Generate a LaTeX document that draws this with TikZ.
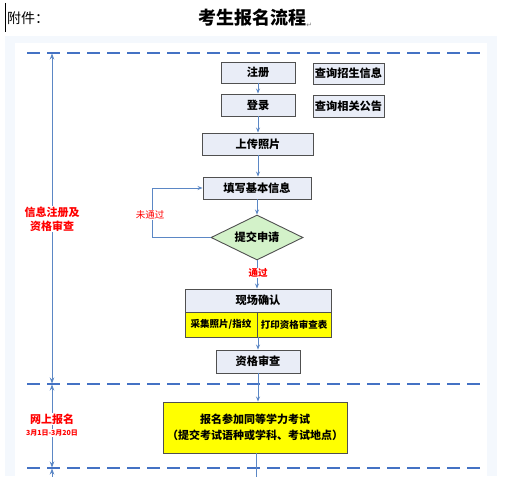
\documentclass[tikz,border=0pt]{standalone}
\usepackage{fontspec}
\setmainfont{Noto Sans CJK SC}
\newfontfamily\symfont{DejaVu Sans}
\usetikzlibrary{shapes.geometric,arrows.meta}
\definecolor{boxfill}{HTML}{E9EDF7}
\definecolor{boxline}{HTML}{505050}
\definecolor{flowblue}{HTML}{5B87C5}
\definecolor{dashblue}{HTML}{4472C4}
\definecolor{panel}{HTML}{F4F8FD}
\definecolor{diafill}{HTML}{D3F2C9}
\definecolor{labred}{HTML}{FF0000}
\definecolor{ylw}{HTML}{FFFF00}
\tikzset{
  stepbox/.style={draw=boxline, fill=boxfill, line width=0.9pt, inner sep=0pt,
    font=\fontsize{11.2}{13}\selectfont\bfseries},
  ybox/.style={stepbox, fill=ylw},
  arr/.style={draw=flowblue, line width=0.8pt, -{Stealth[length=5pt,width=4pt]}},
  bidir/.style={draw=flowblue, line width=0.8pt, {Stealth[length=6pt,width=4.5pt]}-{Stealth[length=6pt,width=4.5pt]}},
  sepline/.style={draw=dashblue, line width=2.3pt, dash pattern=on 13pt off 7pt},
  redlab/.style={text=labred, fill=white, inner sep=1pt, font=\bfseries, align=center},
}
\begin{document}
\begin{tikzpicture}[x=1pt,y=-1pt]
\useasboundingbox (0,0) rectangle (529,476);
% panels
\fill[panel] (5,36) rectangle (497,476);
\fill[white] (15,43) rectangle (487,476);
% title
\draw[black, line width=1.6pt] (5.5,3) -- (5.5,32);
\node[anchor=west, inner sep=0pt, font=\fontsize{14}{16}\selectfont] (att) at (7,18) {附件：};
\node[inner sep=0pt, font=\fontsize{18}{20}\selectfont\bfseries] (title) at (252,18) {考生报名流程};
\node[anchor=south west, inner sep=0pt, yshift=-1pt, text=gray, font=\symfont\fontsize{7}{8}\selectfont] (ret) at (title.south east) {↵};
% separators
\draw[sepline] (27,53) -- (482,53);
\draw[sepline] (27,384) -- (482,384);
\draw[sepline] (27,468) -- (482,468);
% left stage arrows
\coordinate (s0) at (52,53.5);
\coordinate (s1) at (52,383.5);
\coordinate (s1b) at (52,384.5);
\coordinate (s2) at (52,467.5);
\coordinate (s2b) at (52,468.5);
\coordinate (s3) at (52,490);
\draw[bidir] (s0) -- (s1);
\draw[bidir] (s1b) -- (s2);
\draw[bidir] (s2b) -- (s3);
\node[redlab, font=\fontsize{11}{14}\selectfont\bfseries] (lab1) at (52,219) {信息注册及\\资格审查};
\node[redlab, font=\fontsize{11}{13}\selectfont\bfseries] (lab2) at (52,419) {网上报名};
\node[redlab, font=\fontsize{7}{8}\selectfont\bfseries, inner sep=0.5pt] (lab3) at (52,433) {3月1日-3月20日};
% boxes
\node[stepbox, minimum width=74pt, minimum height=21pt] (reg) at (258,72.5) {注册};
\node[stepbox, minimum width=71pt, minimum height=21pt] (q1) at (348.5,73.5) {查询招生信息};
\node[stepbox, minimum width=74pt, minimum height=22pt] (login) at (258,105) {登录};
\node[stepbox, minimum width=71pt, minimum height=22pt] (q2) at (348.5,106) {查询相关公告};
\node[stepbox, minimum width=111pt, minimum height=22pt] (upload) at (258,144) {上传照片};
\node[stepbox, minimum width=108pt, minimum height=22pt] (info) at (257,188) {填写基本信息};
\node[diamond, draw=boxline, fill=diafill, line width=0.9pt, inner sep=0pt, aspect=2,
  minimum width=92pt, minimum height=45pt, font=\fontsize{11.2}{13}\selectfont\bfseries] (submit) at (257,237.5) {提交申请};
\node[stepbox, minimum width=146pt, minimum height=23pt] (confirm) at (258,300.5) {现场确认};
\node[ybox, minimum width=72pt, minimum height=25pt, font=\fontsize{9.5}{11}\selectfont\bfseries] (photo) at (221,324.5) {采集照片/指纹};
\node[ybox, minimum width=74pt, minimum height=25pt, font=\fontsize{9.5}{11}\selectfont\bfseries] (print) at (294,324.5) {打印资格审查表};
\node[stepbox, minimum width=84pt, minimum height=23pt] (check) at (258,361.5) {资格审查};
\node[ybox, minimum width=184pt, minimum height=51pt, align=center,
  font=\fontsize{11}{16}\selectfont\bfseries] (exam) at (255,427.5) {报名参加同等学力考试\\（提交考试语种或学科、考试地点）};
% connectors
\draw[arr] (reg) -- (login);
\draw[arr] (login) -- (login.south |- upload.north);
\draw[arr] (upload) -- (upload.south |- info.north);
\draw[arr] (info) -- (info.south |- submit.north);
\coordinate (pass) at (258,273);
\draw[arr] (submit.south) -- (submit.south |- confirm.north);
\node[redlab, font=\fontsize{9.5}{10}\selectfont\bfseries] (passlab) at (pass) {通过};
\coordinate (loopc) at (152,237.5);
\draw[arr] (submit.west) -- (loopc) |- (info.west);
\node[redlab, font=\fontsize{9.5}{10}\selectfont] (faillab) at (150,215) {未通过};
\coordinate (ybot) at (258,337);
\draw[arr] (ybot) -- (check.north);
\draw[arr] (check.south) -- (check.south |- exam.north);
\coordinate (bot) at (256,480);
\draw[draw=flowblue, line width=0.8pt] (exam.south -| bot) -- (bot);
\end{tikzpicture}
\end{document}
